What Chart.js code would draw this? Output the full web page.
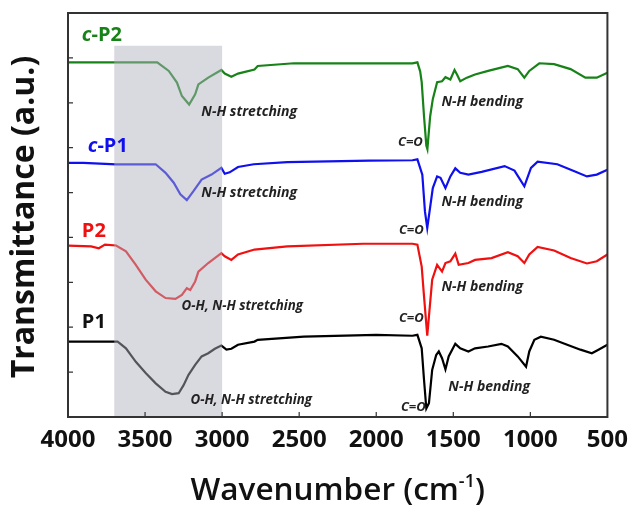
<!DOCTYPE html>
<html>
<head>
<meta charset="utf-8">
<script src="https://cdn.jsdelivr.net/npm/chart.js@4.4.1/dist/chart.umd.min.js"></script>
<style>
  body { margin: 0; background: #fff; }
  #wrap { width: 637px; height: 506px; }
</style>
</head>
<body>
<div id="wrap"><canvas id="ftirChart"></canvas></div>
<script>
// wavenumber (cm-1) / transmittance (offset, a.u.)
const cP2Wave = [4000, 3700, 3421, 3346, 3293, 3261, 3214, 3175, 3154, 3090, 3005, 2983, 2940, 2897, 2790, 2769, 2534, 2200, 1765, 1733, 1715, 1705, 1690, 1675, 1668, 1660, 1650, 1633, 1605, 1573, 1551, 1519, 1492, 1476, 1455, 1412, 1359, 1274, 1146, 1082, 1039, 1007, 942, 846, 739, 643, 569, 500];
const cP2Val  = [7.90, 7.90, 7.90, 7.71, 7.45, 7.15, 6.96, 7.19, 7.41, 7.56, 7.73, 7.65, 7.58, 7.65, 7.74, 7.82, 7.88, 7.88, 7.88, 7.90, 7.70, 7.46, 6.70, 6.05, 5.97, 6.30, 6.70, 7.08, 7.46, 7.48, 7.57, 7.52, 7.73, 7.63, 7.48, 7.56, 7.63, 7.71, 7.82, 7.75, 7.56, 7.71, 7.88, 7.86, 7.75, 7.56, 7.56, 7.67];

const cP1Wave = [4000, 3900, 3688, 3431, 3367, 3314, 3271, 3229, 3186, 3133, 3069, 3005, 2983, 2951, 2897, 2795, 2577, 2045, 1765, 1733, 1701, 1684, 1669, 1654, 1633, 1605, 1583, 1551, 1519, 1487, 1455, 1402, 1316, 1167, 1103, 1039, 996, 953, 825, 718, 633, 569, 500];
const cP1Val  = [5.66, 5.66, 5.63, 5.63, 5.44, 5.22, 4.96, 4.83, 5.03, 5.29, 5.40, 5.55, 5.42, 5.45, 5.57, 5.63, 5.68, 5.71, 5.72, 5.74, 5.40, 4.58, 4.21, 4.58, 5.10, 5.36, 5.33, 5.10, 5.36, 5.54, 5.44, 5.40, 5.46, 5.59, 5.49, 5.14, 5.55, 5.69, 5.63, 5.48, 5.36, 5.40, 5.51];

const p2Wave = [4000, 3850, 3800, 3760, 3688, 3624, 3560, 3496, 3431, 3367, 3303, 3261, 3229, 3207, 3175, 3154, 3090, 3005, 2983, 2940, 2897, 2790, 2577, 2085, 1765, 1733, 1705, 1690, 1669, 1658, 1637, 1605, 1573, 1551, 1519, 1487, 1465, 1402, 1359, 1252, 1146, 1082, 1039, 1007, 953, 846, 739, 633, 569, 500];
const p2Val  = [3.82, 3.80, 3.76, 3.84, 3.82, 3.69, 3.39, 3.06, 2.80, 2.65, 2.63, 2.72, 2.87, 2.83, 3.02, 3.24, 3.43, 3.65, 3.58, 3.50, 3.62, 3.73, 3.80, 3.86, 3.86, 3.84, 3.35, 2.69, 1.81, 2.24, 3.06, 3.39, 3.24, 3.43, 3.47, 3.64, 3.39, 3.43, 3.50, 3.54, 3.67, 3.58, 3.43, 3.62, 3.79, 3.71, 3.54, 3.42, 3.47, 3.62];

const p1Wave = [4000, 3678, 3624, 3560, 3496, 3431, 3367, 3325, 3282, 3250, 3218, 3175, 3133, 3090, 3047, 3005, 2972, 2940, 2897, 2790, 2769, 2470, 2000, 1765, 1733, 1705, 1690, 1675, 1658, 1637, 1611, 1594, 1573, 1551, 1530, 1487, 1455, 1402, 1359, 1274, 1188, 1146, 1082, 1028, 1007, 974, 932, 846, 761, 675, 601, 558, 500];
const p1Val  = [1.68, 1.68, 1.53, 1.23, 0.98, 0.75, 0.56, 0.51, 0.53, 0.71, 0.94, 1.16, 1.35, 1.42, 1.52, 1.59, 1.50, 1.52, 1.61, 1.68, 1.72, 1.79, 1.83, 1.81, 1.83, 1.53, 0.83, 0.19, 0.31, 1.05, 1.38, 1.46, 1.31, 1.06, 1.35, 1.63, 1.53, 1.46, 1.53, 1.57, 1.63, 1.57, 1.35, 1.12, 1.46, 1.72, 1.79, 1.72, 1.61, 1.50, 1.42, 1.50, 1.61];

const xTicks = [4000, 3500, 3000, 2500, 2000, 1500, 1000, 500];

// shaded band (O-H / N-H stretching region)
const shadeFrom = 3700;
const shadeTo = 3000;
const shadeTop = 8.27;

// series names: [italic prefix, rest, colour, wavenumber, value]
const seriesNames = [
    ['c', '-P2', '#178217', 3910, 8.50],
    ['c', '-P1', '#1010ee', 3872, 6.03],
    ['', 'P2', '#f01010', 3910, 4.13],
    ['', 'P1', '#111111', 3910, 2.10]
];

// peak notes: [text, wavenumber (left edge), value]
const notes = [
    ['N-H stretching', 3135, 6.79],
    ['N-H stretching', 3135, 5.00],
    ['O-H, N-H stretching', 3263, 2.46],
    ['O-H, N-H stretching', 3205, 0.38],
    ['N-H bending', 1577, 7.01],
    ['C=O', 1859, 6.12],
    ['N-H bending', 1577, 4.78],
    ['C=O', 1853, 4.17],
    ['N-H bending', 1577, 2.90],
    ['C=O', 1853, 2.19],
    ['N-H bending', 1532, 0.67],
    ['C=O', 1840, 0.22]
];

function toPoints(wave, val) {
    return wave.map((w, i) => ({ x: w, y: val[i] }));
}

function lineSet(label, wave, val, color) {
    return {
        label: label,
        data: toPoints(wave, val),
        borderColor: color,
        borderWidth: 2.2,
        pointRadius: 0,
        tension: 0,
        fill: false
    };
}

// shade, frame, inner ticks and all the text
const decor = {
    id: 'decor',
    afterDatasetsDraw(chart) {
        const { ctx, chartArea: a, scales: { x, y } } = chart;
        ctx.save();

        const x1 = x.getPixelForValue(shadeFrom);
        const x2 = x.getPixelForValue(shadeTo);
        const yt = y.getPixelForValue(shadeTop);
        ctx.fillStyle = 'rgba(175,175,190,0.48)';
        ctx.fillRect(x1, yt, x2 - x1, a.bottom - yt);

        ctx.strokeStyle = '#333';
        ctx.lineWidth = 2;
        ctx.strokeRect(a.left, a.top, a.right - a.left, a.bottom - a.top);

        ctx.lineWidth = 1.2;
        ctx.beginPath();
        for (let v = 1; v <= 8; v++) {
            const py = y.getPixelForValue(v);
            ctx.moveTo(a.left, py);
            ctx.lineTo(a.left + 5, py);
        }
        xTicks.slice(1, -1).forEach(t => {
            const px = x.getPixelForValue(t);
            ctx.moveTo(px, a.bottom);
            ctx.lineTo(px, a.bottom - 5);
        });
        ctx.stroke();

        ctx.fillStyle = '#222';
        ctx.textAlign = 'left';
        ctx.textBaseline = 'middle';
        notes.forEach(n => {
            ctx.font = n[0].length > 15 ? 'italic bold 13.3px "Open Sans"' : 'italic bold 14px "Open Sans"';
            if (n[0] === 'C=O') ctx.font = 'italic bold 13px "Open Sans"';
            ctx.fillText(n[0], x.getPixelForValue(n[1]), y.getPixelForValue(n[2]));
        });

        seriesNames.forEach(s => {
            let px = x.getPixelForValue(s[3]);
            const py = y.getPixelForValue(s[4]);
            ctx.fillStyle = s[2];
            if (s[0]) {
                ctx.font = 'italic bold 20px "Open Sans"';
                ctx.fillText(s[0], px, py);
                px += ctx.measureText(s[0]).width;
            }
            ctx.font = 'bold 20px "Open Sans"';
            ctx.fillText(s[1], px, py);
        });

        // axis titles
        ctx.fillStyle = '#111';
        ctx.save();
        ctx.translate(25, (a.top + a.bottom) / 2 + 2);
        ctx.rotate(-Math.PI / 2);
        ctx.textAlign = 'center';
        ctx.font = 'bold 32px "Open Sans"';
        ctx.fillText('Transmittance (a.u.)', 0, 0);
        ctx.restore();

        const big = '600 31.5px "Open Sans"';
        const small = '600 18px "Open Sans"';
        ctx.font = big;
        const w1 = ctx.measureText('Wavenumber (cm').width;
        const w3 = ctx.measureText(')').width;
        ctx.font = small;
        const w2 = ctx.measureText('-1').width;
        let tx = (a.left + a.right) / 2 - (w1 + w2 + w3) / 2;
        const base = 500;
        ctx.textAlign = 'left';
        ctx.textBaseline = 'alphabetic';
        ctx.font = big;
        ctx.fillText('Wavenumber (cm', tx, base);
        tx += w1;
        ctx.font = small;
        ctx.fillText('-1', tx, base - 13);
        tx += w2;
        ctx.font = big;
        ctx.fillText(')', tx, base);

        ctx.restore();
    }
};

const config = {
    type: 'line',
    data: {
        datasets: [
            lineSet('P1', p1Wave, p1Val, '#000000'),
            lineSet('P2', p2Wave, p2Val, '#f01010'),
            lineSet('c-P1', cP1Wave, cP1Val, '#1010ee'),
            lineSet('c-P2', cP2Wave, cP2Val, '#178217')
        ]
    },
    options: {
        responsive: true,
        maintainAspectRatio: false,
        animation: false,
        layout: { padding: { top: 13, right: 23, left: 0, bottom: 0 } },
        plugins: {
            legend: { display: false },
            tooltip: { enabled: false }
        },
        scales: {
            x: {
                type: 'linear',
                reverse: true,
                min: 500,
                max: 4000,
                afterBuildTicks: scale => {
                    scale.ticks = xTicks.map(v => ({ value: v }));
                },
                afterFit: scale => { scale.height = 89; },
                grid: { display: false, drawTicks: false },
                border: { display: false },
                ticks: {
                    padding: 9,
                    color: '#111',
                    font: { family: '"Open Sans"', size: 24, weight: 'bold' },
                    maxRotation: 0,
                    callback: v => String(v)
                }
            },
            y: {
                type: 'linear',
                min: 0,
                max: 9,
                afterFit: scale => { scale.width = 68; },
                grid: { display: false, drawTicks: false },
                border: { display: false },
                ticks: { display: false, stepSize: 1 }
            }
        }
    },
    plugins: [decor]
};

const ftirChart = new Chart(document.getElementById('ftirChart'), config);
</script>
</body>
</html>
